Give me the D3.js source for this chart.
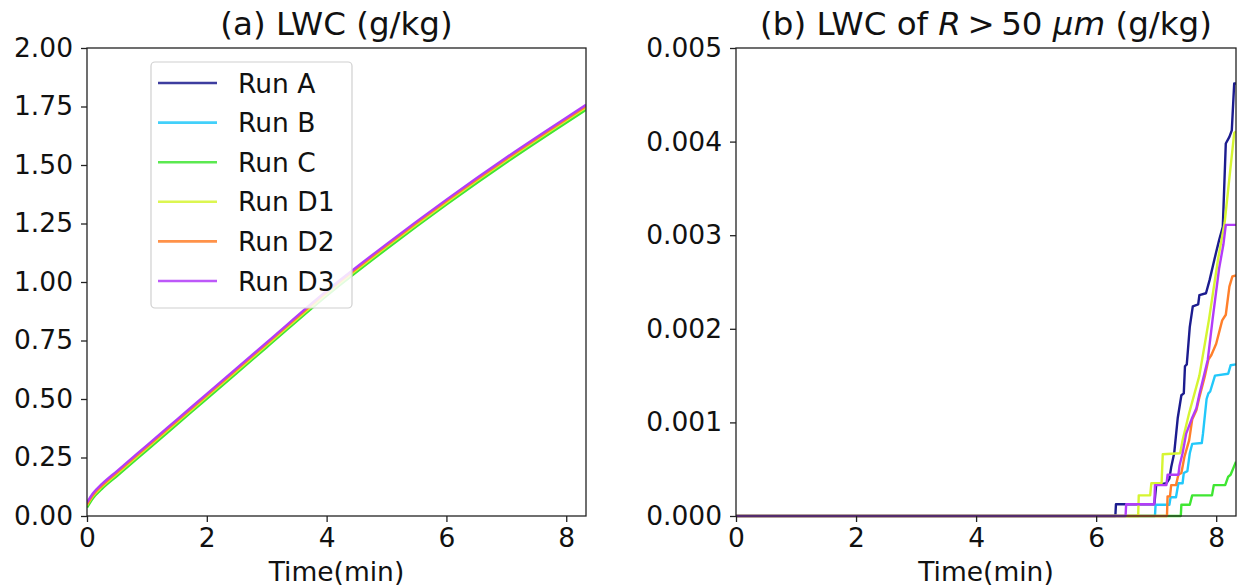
<!DOCTYPE html>
<html>
<head>
<meta charset="utf-8">
<script src="https://cdn.jsdelivr.net/npm/d3@7"></script>
<style>
  html, body { margin: 0; padding: 0; background: #fff; }
  svg { display: block; font-family: "DejaVu Sans", sans-serif; }
</style>
</head>
<body>
<svg id="chart" width="1237" height="587"></svg>
<script>
// ---------- DATA ----------
const runNames = ["Run A", "Run B", "Run C", "Run D1", "Run D2", "Run D3"];
const runColors = ["#1c1c8f", "#22c8fa", "#3fe632", "#d6f532", "#ff7f2a", "#b23cf8"];

const xTicks = [0, 2, 4, 6, 8];
const yTicksA = [0, 0.25, 0.5, 0.75, 1.0, 1.25, 1.5, 1.75, 2.0];
const yTicksB = [0, 0.001, 0.002, 0.003, 0.004, 0.005];

// Panel (a): total LWC (g/kg)
const lwcTime = [0, 0.1, 0.25, 0.5, 1, 1.5, 2, 3, 4, 5, 6, 7, 8, 8.33];
const lwcRunA  = [0.046, 0.086, 0.126, 0.181, 0.291, 0.401, 0.511, 0.731, 0.951, 1.151, 1.341, 1.521, 1.691, 1.746];
const lwcRunB  = [0.042, 0.082, 0.122, 0.177, 0.287, 0.397, 0.507, 0.727, 0.947, 1.147, 1.337, 1.517, 1.687, 1.742];
const lwcRunC  = [0.036, 0.076, 0.116, 0.171, 0.281, 0.391, 0.501, 0.721, 0.941, 1.141, 1.331, 1.511, 1.681, 1.736];
const lwcRunD1 = [0.045, 0.085, 0.125, 0.180, 0.290, 0.400, 0.510, 0.730, 0.950, 1.150, 1.340, 1.520, 1.690, 1.745];
const lwcRunD2 = [0.050, 0.090, 0.130, 0.186, 0.296, 0.406, 0.516, 0.736, 0.956, 1.156, 1.346, 1.526, 1.696, 1.751];
const lwcRunD3 = [0.058, 0.097, 0.137, 0.192, 0.302, 0.412, 0.522, 0.742, 0.962, 1.162, 1.352, 1.532, 1.702, 1.757];

// Panel (b): LWC of R > 50 um (g/kg) — corner points
const bigTimeA = [0, 6.32, 6.33, 6.97, 7.0, 7.17, 7.22, 7.25, 7.30, 7.36, 7.42, 7.46, 7.48, 7.51, 7.56, 7.61, 7.70, 7.72, 7.83, 7.89, 7.97, 8.0, 8.05, 8.11, 8.16, 8.22, 8.26, 8.30, 8.33];
const bigRunA  = [0, 0, 0.000125, 0.000125, 0.00033, 0.00035, 0.0004, 0.00052, 0.00067, 0.00105, 0.00129, 0.00131, 0.0016, 0.00162, 0.00202, 0.00224, 0.00226, 0.00236, 0.00238, 0.00252, 0.00274, 0.00282, 0.00295, 0.00309, 0.00398, 0.00405, 0.00412, 0.00462, 0.00462];
const bigTimeB = [0, 6.98, 6.99, 7.22, 7.24, 7.33, 7.37, 7.44, 7.46, 7.52, 7.56, 7.6, 7.76, 7.78, 7.84, 7.87, 7.9, 7.98, 8.2, 8.24, 8.33];
const bigRunB  = [0, 0, 0.00012, 0.00012, 0.0002, 0.0002, 0.00035, 0.00035, 0.00046, 0.00048, 0.00067, 0.00077, 0.00078, 0.00088, 0.00125, 0.00131, 0.00133, 0.0015, 0.00152, 0.00161, 0.00162];
const bigTimeC = [0, 7.41, 7.42, 7.56, 7.6, 7.93, 7.96, 8.15, 8.2, 8.24, 8.33];
const bigRunC  = [0, 0, 0.00012, 0.00012, 0.00022, 0.00022, 0.00033, 0.00033, 0.00042, 0.00044, 0.00058];
const bigTimeD1 = [0, 6.70, 6.71, 6.90, 6.92, 7.09, 7.11, 7.40, 7.44, 7.55, 7.72, 7.88, 8.03, 8.14, 8.30, 8.33];
const bigRunD1  = [0, 0, 0.00022, 0.00022, 0.00035, 0.00035, 0.00066, 0.00067, 0.00081, 0.0011, 0.0015, 0.0021, 0.00274, 0.00313, 0.00409, 0.00411];
const bigTimeD2 = [0, 7.18, 7.19, 7.23, 7.25, 7.33, 7.37, 7.42, 7.47, 7.55, 7.6, 7.67, 7.72, 7.81, 7.87, 7.92, 8.0, 8.1, 8.16, 8.22, 8.27, 8.33];
const bigRunD2  = [0, 0, 0.00021, 0.00021, 0.00033, 0.00033, 0.00044, 0.00046, 0.00063, 0.00081, 0.00103, 0.00113, 0.00127, 0.00149, 0.00167, 0.00172, 0.00184, 0.00209, 0.00215, 0.00245, 0.00256, 0.00257];
const bigTimeD3 = [0, 6.49, 6.5, 6.97, 6.98, 7.17, 7.19, 7.37, 7.39, 7.44, 7.5, 7.6, 7.67, 7.72, 7.86, 7.94, 8.05, 8.12, 8.16, 8.33];
const bigRunD3  = [0, 0, 0.000125, 0.000125, 0.00033, 0.00033, 0.00044, 0.00044, 0.00054, 0.00067, 0.00088, 0.00105, 0.00115, 0.0013, 0.00167, 0.0021, 0.00265, 0.0029, 0.00311, 0.00311];

// ---------- LAYOUT ----------
const svg = d3.select("#chart");
const fontSize = 26.5;
const titleSize = 32.5;
const axColor = "#222";

const panels = [
  { left: 87, right: 586, top: 48, bottom: 516, yMax: 2.0, yTicks: yTicksA, fmt: d3.format(".2f"),
    series: [lwcRunA, lwcRunB, lwcRunC, lwcRunD1, lwcRunD2, lwcRunD3].map(v => ({ t: lwcTime, v })),
    curve: d3.curveMonotoneX },
  { left: 736, right: 1236, top: 48, bottom: 516, yMax: 0.005, yTicks: yTicksB, fmt: d3.format(".3f"),
    series: [[bigTimeA, bigRunA], [bigTimeB, bigRunB], [bigTimeC, bigRunC], [bigTimeD1, bigRunD1], [bigTimeD2, bigRunD2], [bigTimeD3, bigRunD3]].map(([t, v]) => ({ t, v })),
    curve: d3.curveLinear }
];

panels.forEach((p, pi) => {
  const x = d3.scaleLinear().domain([0, 8.33]).range([p.left, p.right]);
  const y = d3.scaleLinear().domain([0, p.yMax]).range([p.bottom, p.top]);

  const clipId = "clip" + pi;
  svg.append("clipPath").attr("id", clipId).append("rect")
    .attr("x", p.left).attr("y", p.top - 2).attr("width", p.right - p.left).attr("height", p.bottom - p.top + 4);

  const g = svg.append("g").attr("clip-path", `url(#${clipId})`);
  const line = d3.line().x(d => x(d[0])).y(d => y(d[1])).curve(p.curve);
  p.series.forEach((s, i) => {
    const pts = s.t.map((t, k) => [t, s.v[k]]);
    g.append("path").datum(pts).attr("d", line)
      .attr("fill", "none").attr("stroke", runColors[i]).attr("stroke-width", 2.4)
      .attr("stroke-linejoin", "round");
  });

  // frame
  svg.append("rect").attr("x", p.left).attr("y", p.top)
    .attr("width", p.right - p.left).attr("height", p.bottom - p.top)
    .attr("fill", "none").attr("stroke", axColor).attr("stroke-width", 1.3);

  // axes
  const xAxis = d3.axisBottom(x).tickValues(xTicks).tickFormat(d3.format("d")).tickSize(6).tickPadding(6);
  const gx = svg.append("g").attr("transform", `translate(0,${p.bottom})`).call(xAxis);
  const yAxis = d3.axisLeft(y).tickValues(p.yTicks).tickFormat(p.fmt).tickSize(6).tickPadding(8);
  const gy = svg.append("g").attr("transform", `translate(${p.left},0)`).call(yAxis);
  [gx, gy].forEach(ax => {
    ax.select(".domain").remove();
    ax.selectAll(".tick line").attr("stroke", axColor).attr("stroke-width", 1.3);
    ax.selectAll(".tick text").attr("fill", "#111").style("font-size", fontSize + "px")
      .style("font-family", "DejaVu Sans");
  });

  // x label
  svg.append("text").attr("x", (p.left + p.right) / 2).attr("y", 581)
    .attr("text-anchor", "middle").attr("fill", "#111").style("font-size", fontSize + "px")
    .text("Time(min)");

  // title
  const title = svg.append("text").attr("x", (p.left + p.right) / 2).attr("y", 35)
    .attr("text-anchor", "middle").attr("fill", "#111").style("font-size", titleSize + "px");
  if (pi === 0) {
    title.text("(a) LWC (g/kg)");
  } else {
    title.append("tspan").text("(b) LWC of ");
    title.append("tspan").style("font-style", "italic").text("R");
    title.append("tspan").text("\u2009>\u200950 ");
    title.append("tspan").style("font-style", "italic").text("μm");
    title.append("tspan").text(" (g/kg)");
  }
});

// legend (panel a)
const lg = svg.append("g");
lg.append("rect").attr("x", 151).attr("y", 62).attr("width", 201).attr("height", 246)
  .attr("rx", 4).attr("fill", "rgba(255,255,255,0.85)").attr("stroke", "#d0d0d0").attr("stroke-width", 1.2);
runNames.forEach((name, i) => {
  const yy = 83 + i * 39.6;
  lg.append("line").attr("x1", 158).attr("x2", 217).attr("y1", yy).attr("y2", yy)
    .attr("stroke", runColors[i]).attr("stroke-width", 2.6).attr("opacity", 0.85);
  lg.append("text").attr("x", 238).attr("y", yy).attr("dy", "0.36em")
    .attr("fill", "#111").style("font-size", fontSize + "px").text(name);
});
</script>
</body>
</html>
